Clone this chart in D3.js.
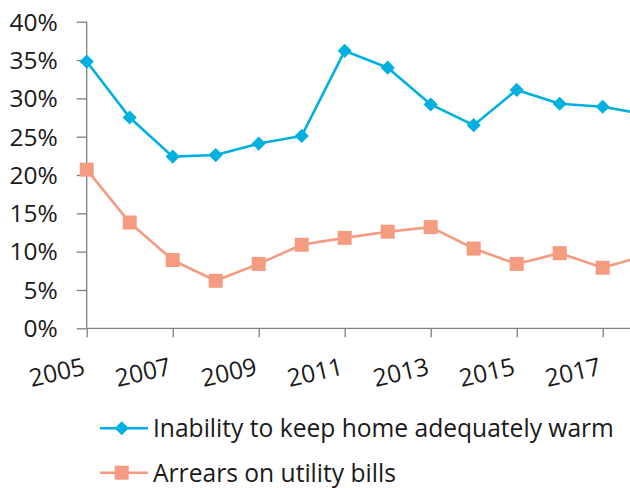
<!DOCTYPE html>
<html><head><meta charset="utf-8">
<script src="https://cdn.jsdelivr.net/npm/d3@7"></script>
<style>
html,body{margin:0;padding:0;background:#fff;}
svg{display:block;font-family:"Open Sans","Noto Sans",sans-serif;}
</style></head>
<body><svg id="c" width="630" height="488"></svg>
<script>
const years = [2005,2006,2007,2008,2009,2010,2011,2012,2013,2014,2015,2016,2017,2018];
const warm = [34.8,27.5,22.4,22.6,24.1,25.1,36.2,34.0,29.2,26.5,31.1,29.3,28.9,27.9];
const arrears = [20.7,13.8,8.9,6.2,8.4,10.9,11.8,12.6,13.2,10.4,8.4,9.8,7.9,9.5];
const yTicks = [0,5,10,15,20,25,30,35,40];
const xTicks = [2005,2007,2009,2011,2013,2015,2017];
const seriesNames = ["Inability to keep home adequately warm","Arrears on utility bills"];
const colors = ["#00B0E0","#F59B80"];

const svg = d3.select("#c");
const x = d3.scaleLinear().domain([2005,2017]).range([86.7,602.7]);
const y = d3.scaleLinear().domain([0,40]).range([328.3,21.7]);
const axisColor = "#7f7f7f";

// y axis
const ya = svg.append("g").attr("transform","translate(86.7,0)")
  .call(d3.axisLeft(y).tickValues(yTicks).tickSize(10).tickPadding(19).tickFormat(d=>d+"%"));
ya.select(".domain").attr("stroke",axisColor).attr("stroke-width",1.3).attr("d","M0,"+y(40)+"V"+y(0));
ya.selectAll(".tick line").attr("stroke",axisColor).attr("stroke-width",1.3);
ya.selectAll("text").attr("font-size",24.5).attr("fill","#1a1a1a").attr("font-family","Open Sans").attr("dy","0.34em");

// x axis
const xa = svg.append("g").attr("transform","translate(0,328.3)")
  .call(d3.axisBottom(x).tickValues(xTicks).tickSize(9).tickFormat(d=>String(d)));
xa.select(".domain").attr("stroke",axisColor).attr("stroke-width",1.3).attr("d","M"+x(2005)+",0H640");
xa.selectAll(".tick line").attr("stroke",axisColor).attr("stroke-width",1.3);
xa.selectAll(".tick text").attr("font-size",24.5).attr("fill","#1a1a1a").attr("font-family","Open Sans")
  .attr("text-anchor","end").attr("dy",0).attr("y",0)
  .attr("transform","translate(-1,46) rotate(-13)");

const line = d3.line().x((d,i)=>x(years[i])).y(d=>y(d));
const data = [warm, arrears];
data.forEach((vals,k)=>{
  svg.append("path").datum(vals).attr("d",line).attr("fill","none")
    .attr("stroke",colors[k]).attr("stroke-width",2.6);
  const g = svg.append("g");
  vals.forEach((v,i)=>{
    if(k===0){
      g.append("path").attr("d",d3.symbol(d3.symbolSquare,100)())
       .attr("transform",`translate(${x(years[i])},${y(v)}) rotate(45)`).attr("fill",colors[k]);
    } else {
      g.append("rect").attr("x",x(years[i])-7).attr("y",y(v)-7).attr("width",14).attr("height",14).attr("fill",colors[k]);
    }
  });
});

// legend
const lg = svg.append("g");
const rowY = [428.3,472.7];
seriesNames.forEach((name,k)=>{
  lg.append("line").attr("x1",100).attr("x2",148).attr("y1",rowY[k]).attr("y2",rowY[k])
    .attr("stroke",colors[k]).attr("stroke-width",2.6);
  if(k===0){
    lg.append("path").attr("d",d3.symbol(d3.symbolSquare,100)())
      .attr("transform",`translate(121.7,${rowY[k]}) rotate(45)`).attr("fill",colors[k]);
  } else {
    lg.append("rect").attr("x",114.7).attr("y",rowY[k]-7).attr("width",14).attr("height",14).attr("fill",colors[k]);
  }
  lg.append("text").attr("x",153).attr("y",rowY[k]).attr("dy","0.36em")
    .attr("font-size",24.6).attr("fill","#1a1a1a").text(name);
});
</script></body></html>
